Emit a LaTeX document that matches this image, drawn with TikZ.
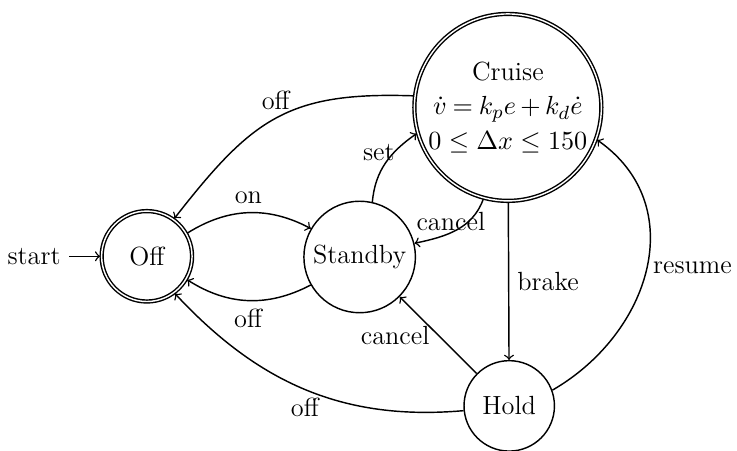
\documentclass[tikz,border=0pt]{standalone}
\usetikzlibrary{automata}

\tikzset{
	mode/.style={state, minimum size=#1, inner sep=1pt},
	trans/.style={->}
}

\begin{document}
\begin{tikzpicture}[font=\fontsize{11}{13.5}\selectfont, semithick]
		%%%%% START %%%%%
		\useasboundingbox (0,0) rectangle (10.84,6.62);
		
		% states
		\node[mode=1.33cm, initial, initial text=start, accepting] (off) at (2.16,2.85) {Off};
		\node[mode=1.64cm] (standby) at (5.29,2.84) {Standby};
		\node[mode=2.75cm, accepting, align=center, inner sep=0pt, font=\fontsize{11}{14.5}\selectfont] (cruise) at (7.47,5.04)
			{Cruise\\ $\medmuskip=3mu \thickmuskip=4mu \dot{v} = k_p e + k_d \dot{e}$\\
			 $0 \leq \Delta x \leq 150$};
		\node[mode=1.33cm] (hold) at (7.49,0.65) {Hold};
		
		% off <-> standby
		\draw[trans] (off) to[bend left=30] node[above] {on} (standby);
		\draw[trans] (standby) to[bend left=30] node[below] {off} (off);
		
		% standby <-> cruise
		\draw[trans] (standby.77) to[out=85, in=215] node[pos=.66, left=-4pt] {set} (cruise.196);
		\draw[trans] (cruise.255) to[out=250, in=12] node[pos=.25, above left=-9pt] {cancel} (standby.14);
		\draw[trans] (cruise.173) to[out=178, in=52, looseness=1.2] node[pos=.5, above] {off} (off.54);
		
		% hold
		\draw[trans] (cruise) -- node[right] {brake} (hold);
		\draw[trans] (hold) -- node[left] {cancel} (standby);
		\draw[trans] (hold.186) to[out=185, in=-47] node[pos=.5, below] {off} (off.-53);
		\draw[trans] (hold.20) to[out=30, in=-35, looseness=1.15] node[pos=.5, right=-1pt] {resume} (cruise.-20);
		
		%%%%% END %%%%%
\end{tikzpicture}
\end{document}
